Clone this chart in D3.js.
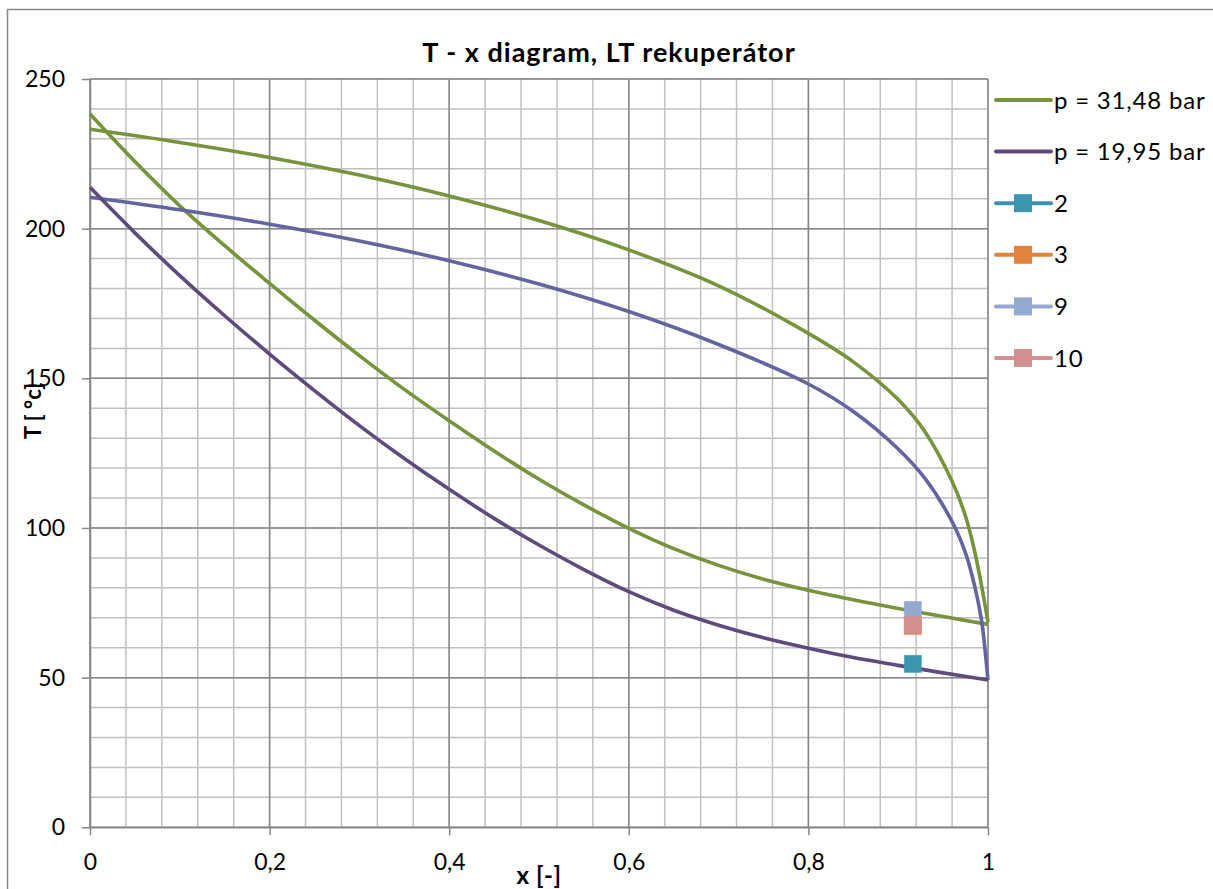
<!DOCTYPE html>
<html>
<head>
<meta charset="utf-8">
<script src="https://cdn.jsdelivr.net/npm/d3@7"></script>
<style>
  html, body { margin: 0; padding: 0; background: #fff; }
  svg { display: block; font-family: Lato, "Open Sans", sans-serif; }
</style>
</head>
<body>
<svg id="chart" width="1213" height="889"></svg>
<script>
// ---------------- data ----------------
const chartTitle = "T - x diagram, LT rekuperátor";
const xTitle = "x [-]";
const yTitle = "T [ °c]";

const xTicks = [0, 0.2, 0.4, 0.6, 0.8, 1];
const xTickLabels = ["0", "0,2", "0,4", "0,6", "0,8", "1"];
const yTicks = [0, 50, 100, 150, 200, 250];
const yTickLabels = ["0", "50", "100", "150", "200", "250"];

// p = 31,48 bar – dew line (upper green)
const x31dew = [0, 0.1, 0.2, 0.3, 0.4, 0.5, 0.6, 0.7, 0.8, 0.85, 0.9, 0.93, 0.96, 0.975, 0.985, 0.993, 1];
const T31dew = [233.2, 228.8, 223.8, 217.9, 210.9, 202.7, 192.9, 180.9, 165.0, 155.5, 142.9, 132.1, 115.6, 103.9, 92.4, 80.4, 68.5];

// p = 31,48 bar – bubble line (lower green)
const x31bub = [0, 0.05, 0.1, 0.15, 0.2, 0.25, 0.3, 0.35, 0.4, 0.45, 0.5, 0.55, 0.6, 0.65, 0.7, 0.75, 0.8, 0.85, 0.9, 0.95, 1];
const T31bub = [238.3, 222.4, 207.6, 194.3, 181.7, 169.4, 157.6, 146.3, 135.8, 125.7, 116.3, 107.7, 99.9, 93.1, 87.5, 82.9, 79.2, 76.0, 73.1, 70.4, 67.8];

// p = 19,95 bar – dew line (upper blue)
const x19dew = [0, 0.1, 0.2, 0.3, 0.4, 0.5, 0.6, 0.7, 0.8, 0.85, 0.9, 0.93, 0.96, 0.975, 0.985, 0.993, 0.997, 1];
const T19dew = [210.5, 206.3, 201.5, 195.9, 189.3, 181.5, 172.3, 161.3, 148.1, 138.9, 126.4, 116.5, 102.1, 91.6, 80.8, 68.8, 58.4, 49.2];

// p = 19,95 bar – bubble line (lower dark purple)
const x19bub = [0, 0.05, 0.1, 0.15, 0.2, 0.25, 0.3, 0.35, 0.4, 0.45, 0.5, 0.55, 0.6, 0.65, 0.7, 0.75, 0.8, 0.85, 0.9, 0.95, 1];
const T19bub = [213.8, 198.6, 184.3, 170.9, 158.1, 145.9, 134.2, 123.2, 112.9, 103.2, 94.3, 86.1, 78.7, 72.5, 67.5, 63.3, 59.8, 56.7, 54.1, 51.6, 49.2];

// state points
const pointNames = ["2", "3", "9", "10"];
const pointX = [0.9163, 0.9163, 0.9163, 0.9163];
const pointT = [54.6, 67.3, 72.6, 67.6];

// legend
const legendNames = ["p = 31,48 bar", "p = 19,95 bar", "2", "3", "9", "10"];

// ---------------- styles ----------------
const GREEN = "#77933C";
const PURPLE = "#5F4A7D";
const BLUE = "#6465A0";
const pointColors = ["#3D96AF", "#E2823C", "#93A9D2", "#D39090"];
const legendColors = [GREEN, PURPLE].concat(pointColors);

// ---------------- layout ----------------
const svg = d3.select("#chart");
const W = 1213, H = 889;
const m = { left: 90, right: 988, top: 79, bottom: 827.3 };

svg.append("rect").attr("width", W).attr("height", H).attr("fill", "#fff");
svg.append("rect").attr("x", 7.5).attr("y", 9.5).attr("width", W + 20).attr("height", H + 20)
  .attr("fill", "none").attr("stroke", "#888").attr("stroke-width", 1.5);

const x = d3.scaleLinear().domain([0, 1]).range([m.left, m.right]);
const y = d3.scaleLinear().domain([0, 250]).range([m.bottom, m.top]);

// minor grid
const g = svg.append("g");
const xMinor = d3.range(0, 1.0001, 0.04);
const yMinor = d3.range(0, 250.001, 10);
g.selectAll(".vmin").data(xMinor).join("line")
  .attr("x1", d => x(d)).attr("x2", d => x(d)).attr("y1", m.top).attr("y2", m.bottom)
  .attr("stroke", "#C0C0C0").attr("stroke-width", 1.5);
g.selectAll(".hmin").data(yMinor).join("line")
  .attr("y1", d => y(d)).attr("y2", d => y(d)).attr("x1", m.left).attr("x2", m.right)
  .attr("stroke", "#C0C0C0").attr("stroke-width", 1.5);
// major grid
g.selectAll(".vmaj").data(xTicks).join("line")
  .attr("x1", d => x(d)).attr("x2", d => x(d)).attr("y1", m.top).attr("y2", m.bottom)
  .attr("stroke", "#878787").attr("stroke-width", 1.5);
g.selectAll(".hmaj").data(yTicks).join("line")
  .attr("y1", d => y(d)).attr("y2", d => y(d)).attr("x1", m.left).attr("x2", m.right)
  .attr("stroke", "#878787").attr("stroke-width", 1.5);

// axes
const xAxis = d3.axisBottom(x).tickValues(xTicks).tickFormat((d, i) => xTickLabels[i])
  .tickSizeInner(8).tickSizeOuter(0).tickPadding(18);
const yAxis = d3.axisLeft(y).tickValues(yTicks).tickFormat((d, i) => yTickLabels[i])
  .tickSizeInner(8).tickSizeOuter(0).tickPadding(17);

const gx = svg.append("g").attr("transform", `translate(0,${m.bottom})`).call(xAxis);
const gy = svg.append("g").attr("transform", `translate(${m.left},0)`).call(yAxis);
[gx, gy].forEach(a => {
  a.select(".domain").attr("stroke", "#878787").attr("stroke-width", 1.5);
  a.selectAll(".tick line").attr("stroke", "#878787").attr("stroke-width", 1.5);
  a.selectAll(".tick text").attr("fill", "#000").style("font-size", "23px")
    .style("font-family", "Lato, 'Open Sans', sans-serif");
});

// curves
const line = d3.line().x(d => x(d[0])).y(d => y(d[1])).curve(d3.curveCatmullRom.alpha(0.5));
const curves = [
  { xs: x31bub, ts: T31bub, c: GREEN },
  { xs: x31dew, ts: T31dew, c: GREEN },
  { xs: x19dew, ts: T19dew, c: BLUE },
  { xs: x19bub, ts: T19bub, c: PURPLE }
];
curves.forEach(cv => {
  const pts = cv.xs.map((v, i) => [v, cv.ts[i]]);
  svg.append("path").attr("d", line(pts)).attr("fill", "none")
    .attr("stroke", cv.c).attr("stroke-width", 3.6).attr("stroke-linejoin", "round");
});

// markers
const ms = 17;
pointNames.forEach((n, i) => {
  svg.append("rect")
    .attr("x", x(pointX[i]) - ms / 2).attr("y", y(pointT[i]) - ms / 2)
    .attr("width", ms).attr("height", ms)
    .attr("fill", pointColors[i]).attr("stroke", pointColors[i]).attr("stroke-opacity", 0.6).attr("stroke-width", 1);
});

// title and axis titles
svg.append("text").attr("x", 609).attr("y", 62).attr("text-anchor", "middle")
  .style("font-size", "27px").style("font-weight", "bold").style("letter-spacing", "1px").text(chartTitle);
svg.append("text").attr("x", 539).attr("y", 884).attr("text-anchor", "middle")
  .style("font-size", "24px").style("font-weight", "bold").style("letter-spacing", "0.5px").text(xTitle);
svg.append("text").attr("transform", "translate(41,411) rotate(-90)").attr("text-anchor", "middle")
  .style("font-size", "22px").style("font-weight", "bold").text(yTitle);

// legend
const lg = svg.append("g");
legendNames.forEach((n, i) => {
  const cy = 100 + i * 51.6;
  lg.append("line").attr("x1", 996).attr("x2", 1051).attr("y1", cy).attr("y2", cy)
    .attr("stroke", legendColors[i]).attr("stroke-width", 4).attr("stroke-linecap", "round");
  if (i >= 2) {
    lg.append("rect").attr("x", 1014).attr("y", cy - 9).attr("width", 18).attr("height", 18)
      .attr("fill", legendColors[i]);
  }
  lg.append("text").attr("x", 1054).attr("y", cy + 8.5).style("font-size", "24px")
    .style("letter-spacing", "0.8px").text(n);
});
</script>
</body>
</html>
